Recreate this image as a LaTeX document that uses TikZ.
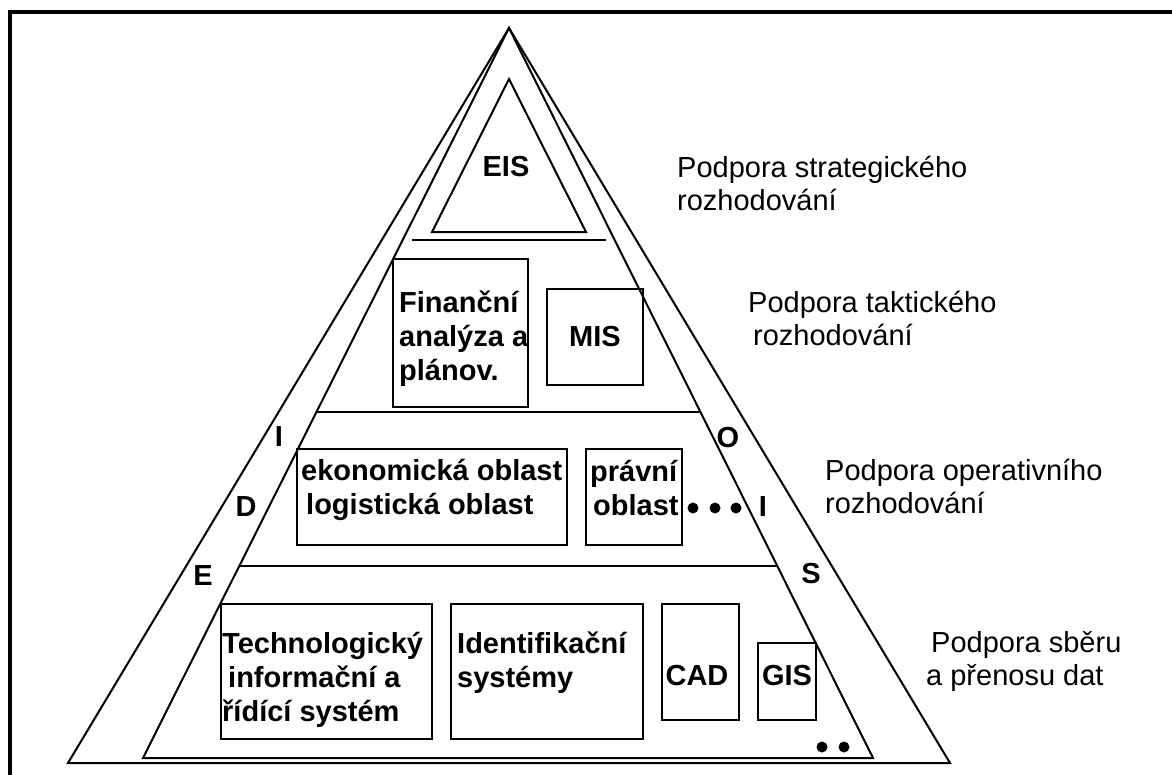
\documentclass[tikz,border=0pt]{standalone}
\usepackage{fontspec}
\setmainfont{Liberation Sans}
\usetikzlibrary{calc}
\newcommand*{\BoxFont}{\fontsize{29}{34}\selectfont\bfseries}
\newcommand*{\SideFont}{\fontsize{29}{33.5}\selectfont}
\newcommand*{\Rows}[1]{\begin{tabular}[t]{@{}l@{}}#1\end{tabular}}
\newcommand*{\DrawBox}[5]{%
    % #1 = name
    % #2, #3 = top left corner
    % #4 = width, #5 = height
    \node [box, minimum width=#4, minimum height=#5, anchor=north west] (#1) at (#2,#3) {};
}
\begin{document}
\begin{tikzpicture}[x=1pt, y=-1pt,
        outline/.style={line width=2pt},
        box/.style={draw, line width=2pt, inner sep=0pt, outer sep=0pt},
        boxtext/.style={font=\BoxFont, inner sep=0pt, anchor=base west},
        sidetext/.style={font=\SideFont, inner sep=0pt, anchor=base west},
        letter/.style={font=\BoxFont, inner sep=0pt},
        dot/.style={fill, circle, inner sep=0pt, minimum size=11pt}]
    \useasboundingbox (0,0) rectangle (1172,774);
    % frame
    \draw [line width=4pt] (10,790) -- (10,12) -- (1190,12);

    % pyramid
    \coordinate (apex) at (509,28);
    \coordinate (obl) at (68,763);
    \coordinate (obr) at (950,763);
    \coordinate (ibl) at (143,758);
    \coordinate (ibr) at (873,758);
    \draw [outline] (obl) -- (obr) -- (apex) -- cycle;
    \draw [outline] (ibl) -- (ibr) -- (apex) -- cycle;
    \draw [outline] ($(apex)!0.526!(ibl)$) -- ($(apex)!0.526!(ibr)$);
    \draw [outline] ($(apex)!0.737!(ibl)$) -- ($(apex)!0.737!(ibr)$);

    % strategic level
    \draw [outline] (432,232) -- (586,232) -- (509,79) -- cycle;
    \node [letter] (eis) at (506,167) {EIS};
    \draw [outline] (412,240) -- (606,240);

    % boxes
    \DrawBox{fin}{393}{259}{135}{148}
    \DrawBox{mis}{547}{289}{96}{96}
    \DrawBox{eko}{297}{449}{270}{96}
    \DrawBox{prav}{586}{449}{96}{96}
    \DrawBox{tech}{221}{604}{211}{135}
    \DrawBox{ident}{451}{604}{192}{135}
    \DrawBox{cad}{662}{604}{77}{116}
    \DrawBox{gis}{758}{643}{58}{77}

    \node [boxtext] (fintext) at (399,312) {\Rows{Finanční\\analýza a\\plánov.}};
    \node [letter] (mistext) at (mis) {MIS};
    \node [boxtext] (ekotext) at (301,480) {\Rows{ekonomická oblast\\\hspace*{5pt}logistická oblast}};
    \node [boxtext] (pravtext) at (590,481) {\Rows{právní\\\hspace*{3pt}oblast}};
    \node [boxtext] (techtext) at (222,653) {\Rows{Technologický\\\hspace*{6pt}informační a\\řídící systém}};
    \node [boxtext] (identtext) at (457,653) {\Rows{Identifikační\\systémy}};
    \node [letter] (cadtext) at (697,676) {CAD};
    \node [letter] (gistext) at (787,676) {GIS};

    % EDI / OIS along the sides
    \foreach \X/\Y/\L [count=\n] in {279/437/I, 246/507/D, 203/576/E, 728/438/O, 763/507/I, 811/574/S}
        \node [letter] (side\n) at (\X,\Y) {\L};

    \foreach \X in {693,715,736}
        \node [dot] (dot\X) at (\X,508) {};
    \foreach \X in {822,844}
        \node [dot] (dot\X) at (\X,747) {};

    % levels
    \node [sidetext] (strat) at (677,177) {\Rows{Podpora strategického\\rozhodování}};
    \node [sidetext] (takt) at (748,312) {\Rows{Podpora taktického\\\hspace*{5pt}rozhodování}};
    \node [sidetext] (oper) at (825,480) {\Rows{Podpora operativního\\rozhodování}};
    \node [sidetext] (sber) at (926,652) {\Rows{\hspace*{5pt}Podpora sběru\\a přenosu dat}};
\end{tikzpicture}
\end{document}
